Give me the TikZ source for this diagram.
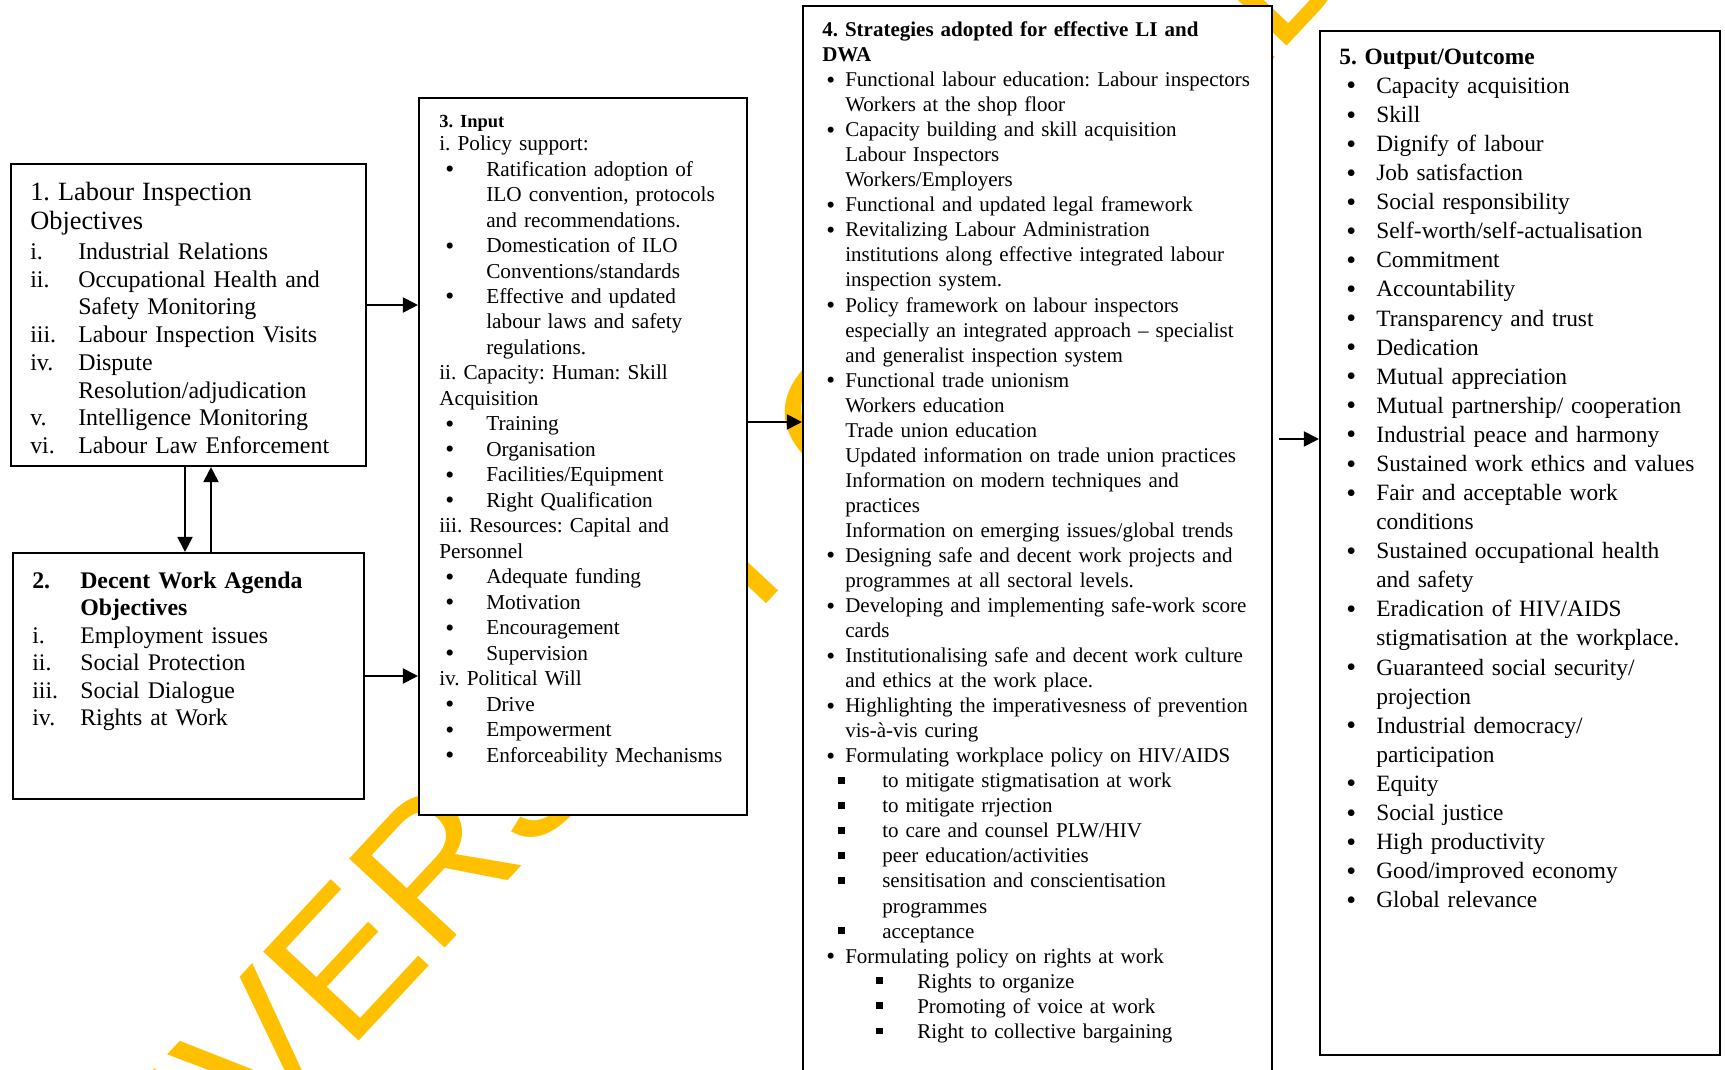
\documentclass[tikz,border=0pt]{standalone}
\usepackage{fontspec}
\setmainfont{Liberation Serif}
\newfontfamily\wmfont{Liberation Sans}
\usepackage{graphicx}
\usepackage{tikz}
\usetikzlibrary{positioning,arrows.meta}
\definecolor{WMYellow}{RGB}{255,192,0}

% one list line: offset of the mark, indent of the text, mark, text
\newcommand{\entry}[4]{\par\noindent\hangindent=#2\hangafter=1\hspace*{#1}\makebox[\dimexpr#2-#1\relax][l]{#3}#4}
\newcommand{\bul}{\raisebox{-0.07em}{\scalebox{1.2}{\textbullet}}}
\newcommand{\sqb}{\rule[0.18em]{0.33em}{0.33em}}

\begin{document}
\frenchspacing
\begin{tikzpicture}[
    font=\fontsize{11.95}{14.25}\selectfont,
    frame/.style={
        rectangle,
        draw=black,
        line width=1.2pt,
        fill=white,
        inner sep=0pt
    },
    txt/.style={
        align=left,
        inner sep=0pt,
        anchor=north west
    },
    arrow/.style={
        -{Triangle[length=3mm,width=3mm]},
        line width=1.1pt
    },
    watermark/.style={
        font=\wmfont\fontsize{108}{108}\selectfont,
        text=WMYellow,
        inner sep=0pt
    }
]

\useasboundingbox (0,0) rectangle (34.5,-21.4);

% watermark, behind the boxes
\node[watermark, anchor=base west, rotate=47] (wm) at (0.78,-27.68) {UNIVERSITY OF IBADAN LIBRARY};

\node[frame, minimum width=7.10cm, minimum height=6.04cm]  (lio)   at (3.77,-6.30)  {};
\node[frame, minimum width=7.02cm, minimum height=4.92cm]  (dwa)   at (3.77,-13.52) {};
\node[frame, minimum width=6.56cm, minimum height=14.34cm] (input) at (11.66,-9.13) {};
\node[frame, minimum width=9.38cm, minimum height=22.08cm] (strat) at (20.75,-11.16) {};
\node[frame, minimum width=8.00cm, minimum height=20.48cm] (outc)  at (30.40,-10.86) {};

\node[txt, text width=6.6cm, font=\fontsize{13.6}{15.8}\selectfont,
      below right=0.37cm and 0.40cm of lio.north west] (litext) {%
{\fontsize{15}{17}\selectfont 1. Labour Inspection\newline Objectives\par}
\vspace{0.9pt}
\entry{0cm}{0.96cm}{i.}{Industrial Relations}
\entry{0cm}{0.96cm}{ii.}{Occupational Health and\newline Safety Monitoring}
\entry{0cm}{0.96cm}{iii.}{Labour Inspection Visits}
\entry{0cm}{0.96cm}{iv.}{Dispute\newline Resolution/adjudication}
\entry{0cm}{0.96cm}{v.}{Intelligence Monitoring}
\entry{0cm}{0.96cm}{vi.}{Labour Law Enforcement}};

\node[txt, text width=6.6cm, font=\fontsize{13.55}{15.65}\selectfont,
      below right=0.17cm and 0.40cm of dwa.north west] (dwatext) {%
\entry{0cm}{0.96cm}{\bfseries 2.}{{\bfseries Decent Work Agenda\newline Objectives}}
\entry{0cm}{0.96cm}{i.}{Employment issues}
\entry{0cm}{0.96cm}{ii.}{Social Protection}
\entry{0cm}{0.96cm}{iii.}{Social Dialogue}
\entry{0cm}{0.96cm}{iv.}{Rights at Work}};

\node[txt, text width=6.3cm, font=\fontsize{12.1}{14.5}\selectfont,
      below right=0.365cm and 0.42cm of input.north west] (inputtext) {%
{\fontsize{10.5}{12}\selectfont\bfseries 3. Input\par}
\vspace{-1.5pt}
\noindent i. Policy support:
\entry{0.12cm}{0.94cm}{\bul}{Ratification adoption of\newline ILO convention, protocols\newline and recommendations.}
\entry{0.12cm}{0.94cm}{\bul}{Domestication of ILO\newline Conventions/standards}
\entry{0.12cm}{0.94cm}{\bul}{Effective and updated\newline labour laws and safety\newline regulations.}
\par\noindent ii. Capacity: Human: Skill\newline Acquisition
\entry{0.12cm}{0.94cm}{\bul}{Training}
\entry{0.12cm}{0.94cm}{\bul}{Organisation}
\entry{0.12cm}{0.94cm}{\bul}{Facilities/Equipment}
\entry{0.12cm}{0.94cm}{\bul}{Right Qualification}
\par\noindent iii. Resources: Capital and\newline Personnel
\entry{0.12cm}{0.94cm}{\bul}{Adequate funding}
\entry{0.12cm}{0.94cm}{\bul}{Motivation}
\entry{0.12cm}{0.94cm}{\bul}{Encouragement}
\entry{0.12cm}{0.94cm}{\bul}{Supervision}
\par\noindent iv. Political Will
\entry{0.12cm}{0.94cm}{\bul}{Drive}
\entry{0.12cm}{0.94cm}{\bul}{Empowerment}
\entry{0.12cm}{0.94cm}{\bul}{Enforceability Mechanisms}};

\node[txt, text width=9.0cm,
      below right=0.33cm and 0.40cm of strat.north west] (strattext) {%
{\bfseries 4. Strategies adopted for effective LI and\newline DWA\par}
\entry{0.08cm}{0.46cm}{\bul}{Functional labour education: Labour inspectors\newline Workers at the shop floor}
\entry{0.08cm}{0.46cm}{\bul}{Capacity building and skill acquisition\newline Labour Inspectors\newline Workers/Employers}
\entry{0.08cm}{0.46cm}{\bul}{Functional and updated legal framework}
\entry{0.08cm}{0.46cm}{\bul}{Revitalizing Labour Administration\newline institutions along effective integrated labour\newline inspection system.}
\entry{0.08cm}{0.46cm}{\bul}{Policy framework on labour inspectors\newline especially an integrated approach \textendash{} specialist\newline and generalist inspection system}
\entry{0.08cm}{0.46cm}{\bul}{Functional trade unionism\newline Workers education\newline Trade union education\newline Updated information on trade union practices\newline Information on modern techniques and\newline practices\newline Information on emerging issues/global trends}
\entry{0.08cm}{0.46cm}{\bul}{Designing safe and decent work projects and\newline programmes at all sectoral levels.}
\entry{0.08cm}{0.46cm}{\bul}{Developing and implementing safe-work score\newline cards}
\entry{0.08cm}{0.46cm}{\bul}{Institutionalising safe and decent work culture\newline and ethics at the work place.}
\entry{0.08cm}{0.46cm}{\bul}{Highlighting the imperativesness of prevention\newline vis-à-vis curing}
\entry{0.08cm}{0.46cm}{\bul}{Formulating workplace policy on HIV/AIDS}
\entry{0.32cm}{1.20cm}{\sqb}{to mitigate stigmatisation at work}
\entry{0.32cm}{1.20cm}{\sqb}{to mitigate rrjection}
\entry{0.32cm}{1.20cm}{\sqb}{to care and counsel PLW/HIV}
\entry{0.32cm}{1.20cm}{\sqb}{peer education/activities}
\entry{0.32cm}{1.20cm}{\sqb}{sensitisation and conscientisation\newline programmes}
\entry{0.32cm}{1.20cm}{\sqb}{acceptance}
\entry{0.08cm}{0.46cm}{\bul}{Formulating policy on rights at work}
\entry{1.08cm}{1.90cm}{\sqb}{Rights to organize}
\entry{1.08cm}{1.90cm}{\sqb}{Promoting of voice at work}
\entry{1.08cm}{1.90cm}{\sqb}{Right to collective bargaining}};

\node[txt, text width=7.9cm, font=\fontsize{13.3}{16.55}\selectfont,
      below right=0.37cm and 0.40cm of outc.north west] (outctext) {%
{\bfseries 5. Output/Outcome\par}
\entry{0.14cm}{0.74cm}{\bul}{Capacity acquisition}
\entry{0.14cm}{0.74cm}{\bul}{Skill}
\entry{0.14cm}{0.74cm}{\bul}{Dignify of labour}
\entry{0.14cm}{0.74cm}{\bul}{Job satisfaction}
\entry{0.14cm}{0.74cm}{\bul}{Social responsibility}
\entry{0.14cm}{0.74cm}{\bul}{Self-worth/self-actualisation}
\entry{0.14cm}{0.74cm}{\bul}{Commitment}
\entry{0.14cm}{0.74cm}{\bul}{Accountability}
\entry{0.14cm}{0.74cm}{\bul}{Transparency and trust}
\entry{0.14cm}{0.74cm}{\bul}{Dedication}
\entry{0.14cm}{0.74cm}{\bul}{Mutual appreciation}
\entry{0.14cm}{0.74cm}{\bul}{Mutual partnership/ cooperation}
\entry{0.14cm}{0.74cm}{\bul}{Industrial peace and harmony}
\entry{0.14cm}{0.74cm}{\bul}{Sustained work ethics and values}
\entry{0.14cm}{0.74cm}{\bul}{Fair and acceptable work\newline conditions}
\entry{0.14cm}{0.74cm}{\bul}{Sustained occupational health\newline and safety}
\entry{0.14cm}{0.74cm}{\bul}{Eradication of HIV/AIDS\newline stigmatisation at the workplace.}
\entry{0.14cm}{0.74cm}{\bul}{Guaranteed social security/\newline projection}
\entry{0.14cm}{0.74cm}{\bul}{Industrial democracy/\newline participation}
\entry{0.14cm}{0.74cm}{\bul}{Equity}
\entry{0.14cm}{0.74cm}{\bul}{Social justice}
\entry{0.14cm}{0.74cm}{\bul}{High productivity}
\entry{0.14cm}{0.74cm}{\bul}{Good/improved economy}
\entry{0.14cm}{0.74cm}{\bul}{Global relevance}};

\coordinate (a13) at ([yshift=2mm]lio.east);
\draw[arrow] (a13) -- (a13 -| input.west);
\draw[arrow] (dwa.east) -- (dwa.east -| input.west);

\coordinate (d12) at ([xshift=-0.7mm]lio.south);
\draw[arrow] (d12) -- (d12 |- dwa.north);
\coordinate (u21) at ([xshift=4.5mm]dwa.north);
\draw[arrow] (u21) -- (u21 |- lio.south);

\coordinate (a34) at ([yshift=6.9mm]input.east);
\draw[arrow] (a34) -- (a34 -| strat.west);
\coordinate (a45) at ([xshift=1.2mm, yshift=23.8mm]strat.east);
\draw[arrow] (a45) -- (a45 -| outc.west);

\end{tikzpicture}
\end{document}
